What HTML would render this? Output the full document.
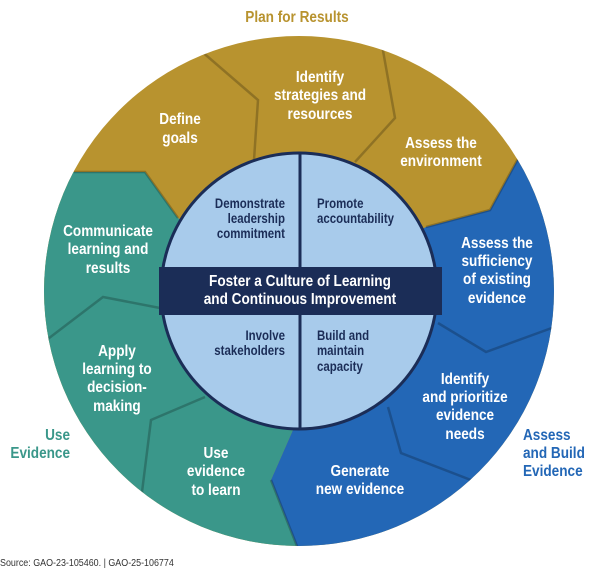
<!DOCTYPE html>
<html><head><meta charset="utf-8"><style>
html,body{margin:0;padding:0;background:#fff;}
svg{display:block;}
.w{font-family:"Liberation Sans",sans-serif;font-weight:bold;fill:#fff;font-size:16px;text-anchor:middle;}
.n{font-family:"Liberation Sans",sans-serif;font-weight:bold;fill:#1b2d57;font-size:13.5px;}
.d{fill:none;stroke:rgba(0,0,0,0.22);stroke-width:2.5;}
</style></head><body>
<svg width="600" height="569" viewBox="0 0 600 569">
<defs><clipPath id="oc"><circle cx="299" cy="291" r="255"/></clipPath></defs>
<g clip-path="url(#oc)">
<rect x="0" y="0" width="600" height="569" fill="#b8932f"/>
<polygon fill="#3a978a" points="0,172 74,172 145,172 178,218 300,291 293,430 271,480 306,569 0,569"/>
<polygon fill="#2367b6" points="600,120 540,120 519,157 490,210 426,227 300,291 293,430 271,480 306,569 600,569"/>
<polyline class="d" points="74,172 145,172 178,218"/>
<polyline class="d" points="519,157 490,210 426,227"/>
<polyline class="d" points="271,480 306,569"/>
<polyline class="d" points="200,50 258,100 254,160"/>
<polyline class="d" points="382,45 395,118 355,162"/>
<polyline class="d" points="438,323 486,352 560,325"/>
<polyline class="d" points="388,407 401,453 471,480 520,460"/>
<polyline class="d" points="40,345 103,297 160,308"/>
<polyline class="d" points="205,397 151,420 141,500"/>
</g>
<circle cx="299" cy="291" r="138" fill="#a8cbeb" stroke="#1b2d57" stroke-width="3"/>
<line x1="300" y1="153" x2="300" y2="429" stroke="#1b2d57" stroke-width="3"/>
<rect x="159" y="267" width="283" height="48" fill="#1b2d57"/>
<g transform="scale(0.85,1)">
<text class="w" x="352.9" y="286" font-size="15">Foster a Culture of Learning</text>
<text class="w" x="352.9" y="304" font-size="15">and Continuous Improvement</text>
<g class="n" text-anchor="end">
<text x="335.3" y="208">Demonstrate</text><text x="335.3" y="223">leadership</text><text x="335.3" y="238">commitment</text>
<text x="335.3" y="340">Involve</text><text x="335.3" y="355">stakeholders</text>
</g>
<g class="n">
<text x="372.9" y="208">Promote</text><text x="372.9" y="223">accountability</text>
<text x="372.9" y="340">Build and</text><text x="372.9" y="355">maintain</text><text x="372.9" y="371">capacity</text>
</g>
<g class="w">
<text x="211.8" y="124">Define</text><text x="211.8" y="143">goals</text>
<text x="376.5" y="82">Identify</text><text x="376.5" y="100">strategies and</text><text x="376.5" y="119">resources</text>
<text x="518.8" y="148">Assess the</text><text x="518.8" y="166">environment</text>
<text x="584.7" y="248">Assess the</text><text x="584.7" y="266">sufficiency</text><text x="584.7" y="284">of existing</text><text x="584.7" y="303">evidence</text>
<text x="547.1" y="384">Identify</text><text x="547.1" y="402">and prioritize</text><text x="547.1" y="420">evidence</text><text x="547.1" y="439">needs</text>
<text x="423.5" y="476">Generate</text><text x="423.5" y="494">new evidence</text>
<text x="254.1" y="458">Use</text><text x="254.1" y="476">evidence</text><text x="254.1" y="495">to learn</text>
<text x="137.6" y="356">Apply</text><text x="137.6" y="374">learning to</text><text x="137.6" y="392">decision-</text><text x="137.6" y="411">making</text>
<text x="127.1" y="236">Communicate</text><text x="127.1" y="254">learning and</text><text x="127.1" y="273">results</text>
</g>
<text class="w" x="349.4" y="22" style="fill:#b8932f">Plan for Results</text>
<g class="w" style="fill:#3a978a;text-anchor:end"><text x="82.4" y="440">Use</text><text x="82.4" y="458">Evidence</text></g>
<g class="w" style="fill:#2367b6;text-anchor:start"><text x="615.3" y="440">Assess</text><text x="615.3" y="458">and Build</text><text x="615.3" y="476">Evidence</text></g>
<text x="0" y="566" font-family="Liberation Sans, sans-serif" font-size="10.5" fill="#333">Source: GAO-23-105460.  |  GAO-25-106774</text>
</g>
</svg>
</body></html>
